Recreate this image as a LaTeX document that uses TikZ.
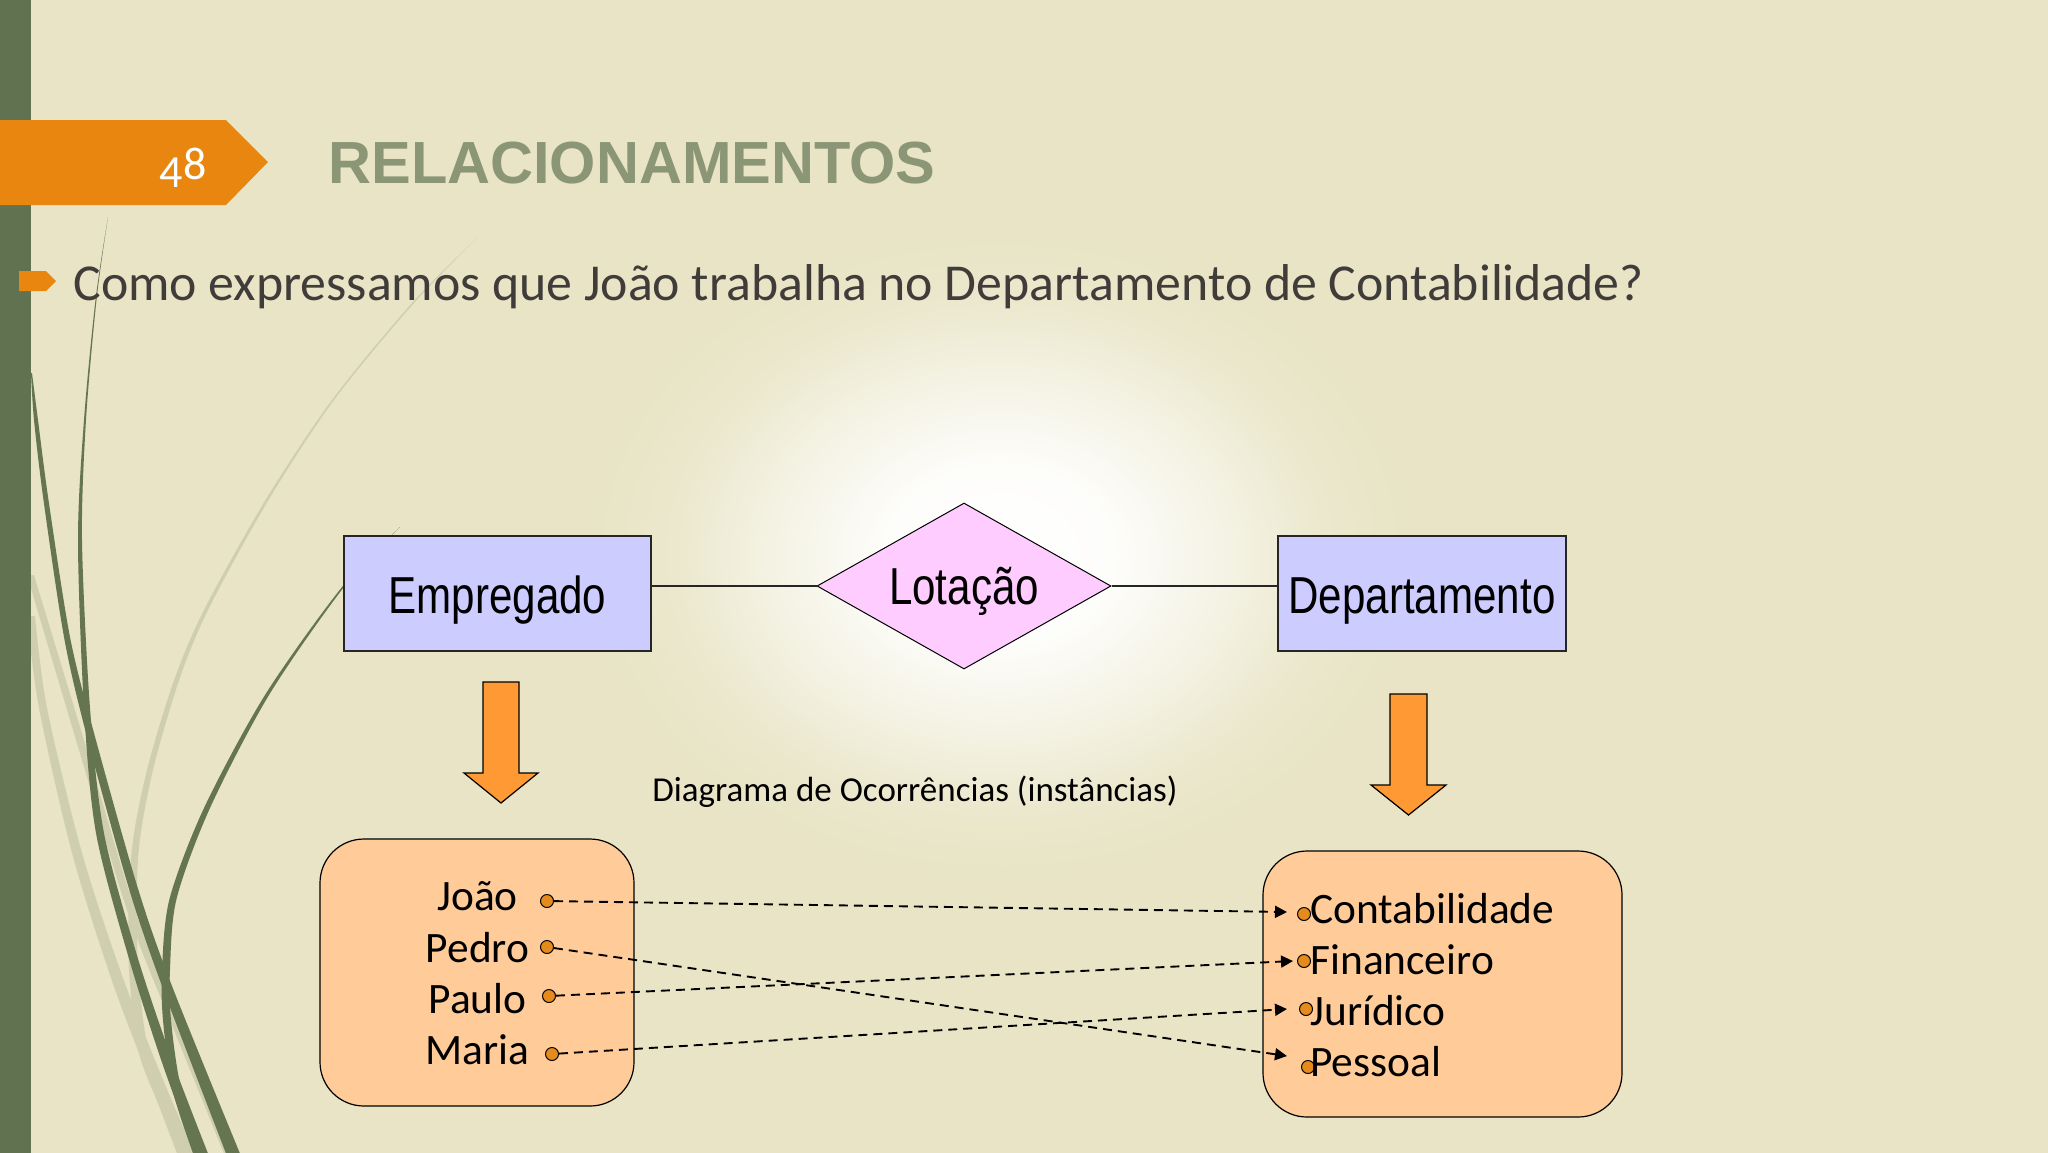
\documentclass[tikz,border=0pt]{standalone}
\usepackage{fontspec}
\setmainfont{Carlito}
\newfontfamily\titlefont{Liberation Sans}
\newfontfamily\boxfont[FakeStretch=0.81]{Liberation Sans}
\usetikzlibrary{positioning,arrows.meta,shapes.geometric}

\definecolor{bgcolor}{HTML}{E8E4C5}
\definecolor{stripcolor}{HTML}{607250}
\definecolor{grassdark}{HTML}{65754F}
\definecolor{grasslight}{HTML}{CFCFB0}
\definecolor{bannercolor}{HTML}{E98610}
\definecolor{titlecolor}{HTML}{8A9676}
\definecolor{bodycolor}{HTML}{403C3A}
\definecolor{entitycolor}{HTML}{CCCCFF}
\definecolor{relcolor}{HTML}{FFCCFF}
\definecolor{setcolor}{HTML}{FFCC99}
\definecolor{arrowcolor}{HTML}{FF9933}
\definecolor{dotcolor}{HTML}{E58A1C}

\pgfdeclareradialshading{glow}{\pgfpointorigin}{%
    color(0bp)=(white);
    color(7bp)=(white!92!bgcolor);
    color(14bp)=(white!52!bgcolor);
    color(20bp)=(white!14!bgcolor);
    color(25bp)=(bgcolor);
    color(50bp)=(bgcolor)}

\tikzset{
    entity/.style={rectangle, draw=black!85, line width=.8pt, fill=entitycolor, inner sep=0pt,
        minimum height=57.5pt, text height=19.5pt, text depth=0pt, font=\boxfont\fontsize{26}{30}\selectfont},
    relation/.style={diamond, aspect=1.77, draw=black, line width=.5pt, fill=relcolor, inner sep=0pt,
        minimum width=147pt, minimum height=83pt, text height=18pt, text depth=0pt, font=\boxfont\fontsize{26}{30}\selectfont},
    relline/.style={draw=black!85, line width=.8pt},
    setbox/.style={rectangle, rounded corners=22pt, draw=black, line width=.6pt, fill=setcolor, inner sep=0pt},
    settext/.style={inner sep=0pt, font=\fontsize{21.7}{25}\selectfont},
    dot/.style={circle, draw=black, line width=.5pt, fill=dotcolor, inner sep=0pt, minimum size=6.5pt},
    blockarrow/.style={draw=black, line width=.6pt, fill=arrowcolor},
    instline/.style={-{Triangle[length=6pt,width=6pt]}, line width=.95pt, dash pattern=on 4.5pt off 3pt}
}

\begin{document}
\begin{tikzpicture}[x=0.5pt, y=-0.5pt]

        \useasboundingbox (0,0) rectangle (2048,1152);

        % background and glow
        \fill[bgcolor] (-5,-5) rectangle (2053,1157);
        \shade[shading=glow] (1000,555) ellipse (410 and 320);

        % grass blades, light ones first
        \fill[grasslight] plot[smooth] coordinates {(478,237)(412,303)(332,400)(265.5,500)(205,608)(174.5,679)(147,770)(131.5,853)(128.5,957)(138,1049)(161.5,1111)(181,1156)}
            -- plot[smooth] coordinates {(193,1156)(172.5,1111)(148,1049)(137.5,957)(138.5,853)(153,770)(179.5,679)(209,608)(268.5,500)(334,400)(414,303)(478,237)} -- cycle;
        \fill[grasslight] plot[smooth] coordinates {(27,575)(79,750)(129,916)(178,1040)(225,1156)}
            -- plot[smooth] coordinates {(235,1156)(188,1040)(137,916)(87,750)(34,575)} -- cycle;
        \fill[grasslight] plot[smooth] coordinates {(27,616)(39,708)(72,853)(111,978)(150,1082)(178,1156)}
            -- plot[smooth] coordinates {(196,1156)(164,1082)(123,978)(82,853)(47,708)(35,616)} -- cycle;
        \fill[grassdark] plot[smooth] coordinates {(108,217)(95.5,300)(84,420)(78,540)(84,708)(96,833)(128.5,957)(161.5,1061)(196,1156)}
            -- plot[smooth] coordinates {(209,1156)(172.5,1061)(137.5,957)(104,833)(90,708)(82,540)(86,420)(96.5,300)(108,217)} -- cycle;
        \fill[grassdark] plot[smooth] coordinates {(31,373)(34,420)(43.5,500)(64,637)(86,733)(128.5,887)(162,986)(227,1156)}
            -- plot[smooth] coordinates {(241,1156)(172,986)(137.5,887)(94,733)(70,637)(48.5,500)(38,420)(32,373)} -- cycle;
        \fill[grassdark] plot[smooth] coordinates {(400,527)(342,587)(265,695)(204,808)(169.5,899)(162,970)(163,1020)(172.5,1090)(194,1156)}
            -- plot[smooth] coordinates {(206,1156)(181.5,1090)(171,1020)(170,970)(176.5,899)(210,808)(269,695)(344,587)(400,527)} -- cycle;

        % side strip, number banner and title
        \fill[stripcolor] (-5,-5) rectangle (31,1157);
        \fill[bannercolor] (-5,120) -- (226,120) -- (268,162) -- (226,205) -- (-5,205) -- cycle;
        \node[text=white, inner sep=0pt, anchor=base, font=\fontsize{23}{27}\selectfont] (pagenum) at (183,179) {\raisebox{-4pt}{4}8};
        \node[text=titlecolor, inner sep=0pt, anchor=base west, font=\titlefont\bfseries\fontsize{29.75}{36}\selectfont] (title) at (328,183) {RELACIONAMENTOS};

        % question line
        \fill[bannercolor] (19,271) -- (46,271) -- (56,281) -- (46,291) -- (19,291) -- cycle;
        \node[text=bodycolor, inner sep=0pt, anchor=base west, font=\fontsize{25.9}{30}\selectfont] (question) at (73,300) {Como expressamos que João trabalha no Departamento de Contabilidade?};

        % entities and relationship
        \node[entity, minimum width=153.5pt] (emp) at (497.5,593.5) {Empregado};
        \node[entity, minimum width=144pt] (dep) at (1422,593.5) {Departamento};
        \node[relation] (lot) at (964,586) {Lotação};
        \draw[relline] (lot.west) -- (lot.west -| emp.east);
        \draw[relline] (lot.east) -- (lot.east -| dep.west);

        % block arrows
        \foreach \cx/\top/\hw/\sw/\sh in {501/682/37/18/773, 1408.5/694/37.5/18.5/785} {
            \draw[blockarrow] (\cx-\sw,\top) -- (\cx+\sw,\top) -- (\cx+\sw,\sh) -- (\cx+\hw,\sh)
                -- (\cx,\sh+30) -- (\cx-\hw,\sh) -- (\cx-\sw,\sh) -- cycle;
        }

        \node[inner sep=0pt, anchor=base west, font=\fontsize{17.5}{20}\selectfont] (caption) at (652,801) {Diagrama de Ocorrências (instâncias)};

        % occurrence sets
        \node[setbox, minimum width=157pt, minimum height=133.5pt] (empset) at (477,972.5) {};
        \node[setbox, minimum width=179.5pt, minimum height=133pt] (depset) at (1442.5,984) {};

        \foreach \nm/\txt/\ty/\dx/\dy in {joao/João/910.5/547/901, pedro/Pedro/962/547/947, paulo/Paulo/1013/549/996, maria/Maria/1064/552/1054} {
            \node[settext, anchor=base] (n\nm) at (477.5,\ty) {\txt};
            \node[dot] (d\nm) at (\dx,\dy) {};
        }
        \foreach \nm/\txt/\ty/\dx/\dy/\tipx/\tipy in {cont/Contabilidade/923/1304/914/1287/912, fin/Financeiro/974/1304/961/1293/961, jur/Jurídico/1025/1306/1009/1287/1009, pes/Pessoal/1076/1308/1067/1287/1056} {
            \node[dot] (d\nm) at (\dx,\dy) {};
            \node[settext, anchor=base west] (n\nm) at (1310,\ty) {\txt};
            \coordinate (t\nm) at (\tipx,\tipy);
        }

        % instance links
        \draw[instline] (djoao) -- (tcont);
        \draw[instline] (dpedro) -- (tpes);
        \draw[instline] (dpaulo) -- (tfin);
        \draw[instline] (dmaria) -- (tjur);

    \end{tikzpicture}
\end{document}
